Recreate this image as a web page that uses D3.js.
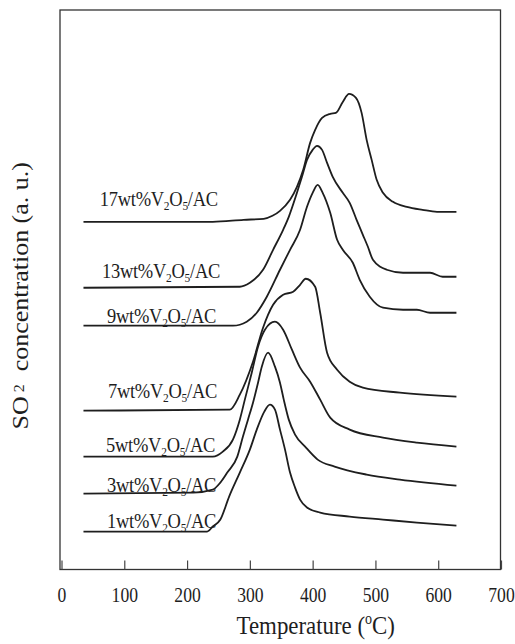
<!DOCTYPE html>
<html lang="en">
<head>
<meta charset="UTF-8">
<title>SO2 desorption profiles of V2O5/AC</title>
<script src="https://d3js.org/d3.v7.min.js"></script>
<style>
  body { margin: 0; background: #fff; }
  svg { display: block; }
  text { font-family: "Liberation Serif", "Times New Roman", serif; fill: #1e1e1e; }
</style>
</head>
<body>
<div id="chart"></div>
<script>
  // [temperature (°C), SO2 signal (a.u., already stacked with its offset)]
  const wt17 = [[35,34.8],[241,34.8],[290,35.0],[322,35.1],[336,35.4],[348,35.9],[364,37.0],[375,38.3],[385,40.0],[396,42.7],[404,44.0],[415,45.2],[428,45.6],[437,45.7],[448,46.8],[458,47.6],[469,47.2],[478,45.7],[486,43.0],[494,41.0],[502,39.0],[512,37.7],[528,36.8],[550,36.3],[575,36.0],[598,35.8],[629,35.8]];
  const wt13 = [[35,28.2],[284,28.3],[300,28.7],[321,30.0],[337,32.0],[353,34.0],[362,35.3],[375,37.7],[383,39.3],[391,41.0],[400,42.0],[407,42.4],[415,42.0],[423,40.7],[432,39.3],[448,37.7],[459,36.7],[470,35.0],[480,33.5],[488,32.3],[496,31.0],[518,30.0],[544,29.7],[587,29.7],[607,29.3],[629,29.3]];
  const wt9  = [[35,24.4],[273,24.4],[295,24.8],[311,25.7],[327,27.3],[348,30.0],[364,32.0],[380,34.0],[391,36.3],[400,37.7],[408,38.5],[416,37.7],[428,35.7],[439,33.0],[448,32.0],[464,30.7],[475,29.0],[491,27.3],[512,26.2],[544,26.0],[566,26.0],[587,25.7],[629,25.7]];
  const wt7  = [[35,15.9],[268,16.0],[284,17.5],[305,20.8],[321,24.2],[337,26.5],[353,27.5],[369,27.8],[380,28.5],[389,29.1],[404,28.3],[412,25.7],[423,21.7],[439,20.0],[459,18.8],[480,18.2],[539,17.7],[629,17.3]];
  const wt5  = [[35,11.3],[241,11.3],[257,11.8],[273,13.0],[284,15.0],[292,17.0],[303,19.7],[313,22.3],[324,24.0],[340,24.8],[353,24.0],[367,22.0],[380,20.2],[396,18.8],[412,17.0],[428,15.2],[459,14.0],[512,13.2],[566,12.7],[629,12.3]];
  const wt3  = [[35,7.6],[210,7.7],[241,8.0],[253,8.7],[264,9.7],[280,11.3],[289,13.3],[297,15.0],[305,16.7],[313,18.7],[319,20.3],[329,21.7],[340,20.3],[348,18.7],[354,17.0],[362,15.0],[372,13.5],[388,12.3],[408,11.0],[435,10.3],[486,9.5],[539,9.0],[629,8.4]];
  const wt1  = [[35,3.8],[232,3.8],[241,4.3],[253,5.0],[267,7.3],[284,9.7],[300,12.0],[311,14.0],[323,15.8],[332,16.5],[340,16.0],[348,14.0],[356,12.0],[364,9.7],[372,8.2],[380,7.0],[391,6.2],[412,5.7],[459,5.3],[512,5.0],[566,4.7],[629,4.4]];

  const loadings = ["17", "13", "9", "7", "5", "3", "1"];
  const curves = [wt17, wt13, wt9, wt7, wt5, wt3, wt1];
  // where each curve's name sits (temperature, signal)
  const labelT = [61, 64.5, 72.5, 74, 71, 72.5, 72.5];
  const labelV = [36.4, 29.2, 24.7, 17.2, 11.8, 7.8, 4.2];
  const xTicks = [0, 100, 200, 300, 400, 500, 600, 700];

  const width = 515, height = 644;
  const squeeze = 0.88; // the source figure is a little narrowed, text included

  const x = d3.scaleLinear().domain([0, 700]).range([61.5, 501]);
  const y = d3.scaleLinear().domain([0, 56]).range([569.5, 10]);

  const svg = d3.select("#chart")
    .append("svg")
    .attr("width", width)
    .attr("height", height);

  // frame
  svg.append("rect")
    .attr("x", x.range()[0] - 1.5)
    .attr("y", y.range()[1])
    .attr("width", x.range()[1] - x.range()[0] + 1)
    .attr("height", y.range()[0] - y.range()[1])
    .attr("fill", "none")
    .attr("stroke", "#333")
    .attr("stroke-width", 1.3);

  // x axis, ticks pointing inward
  svg.append("g")
    .attr("transform", `translate(0,${y.range()[0]})`)
    .call(d3.axisBottom(x).tickValues(xTicks).tickSizeInner(-9).tickSizeOuter(0).tickPadding(18))
    .call(g => g.select(".domain").remove())
    .call(g => g.selectAll(".tick line").attr("stroke", "#444").attr("stroke-width", 1.2))
    .call(g => g.selectAll(".tick text")
      .attr("font-size", 20)
      .attr("fill", "#1e1e1e")
      .attr("transform", `scale(${squeeze},1)`));

  const line = d3.line()
    .x(d => x(d[0]))
    .y(d => y(d[1]))
    .curve(d3.curveMonotoneX);

  svg.append("g")
    .selectAll("path")
    .data(curves)
    .join("path")
    .attr("d", line)
    .attr("fill", "none")
    .attr("stroke", "#1e1e1e")
    .attr("stroke-width", 1.8)
    .attr("stroke-linejoin", "round");

  // curve names, e.g. 17wt%V2O5/AC
  loadings.forEach((w, i) => {
    const t = svg.append("text")
      .attr("transform", `translate(${x(labelT[i])},${y(labelV[i])}) scale(${squeeze},1)`)
      .attr("font-size", 21)
      .attr("letter-spacing", -0.3);
    t.append("tspan").text(`${w}wt%V`);
    t.append("tspan").attr("font-size", 13).attr("dy", 4).text("2");
    t.append("tspan").attr("dy", -4).text("O");
    t.append("tspan").attr("font-size", 13).attr("dy", 4).text("5");
    t.append("tspan").attr("dy", -4).text("/AC");
  });

  // axis titles
  const xt = svg.append("text")
    .attr("transform", `translate(${x(405)},634) scale(${squeeze},1)`)
    .attr("text-anchor", "middle")
    .attr("font-size", 26);
  xt.append("tspan").text("Temperature (");
  xt.append("tspan").attr("font-size", 16).attr("dy", -10).text("o");
  xt.append("tspan").attr("dy", 10).text("C)");

  const yt = svg.append("text")
    .attr("transform", `translate(28,${(y.range()[0] + y.range()[1]) / 2 + 6}) scale(${squeeze},1) rotate(-90)`)
    .attr("text-anchor", "middle")
    .attr("font-size", 26)
    .style("white-space", "pre");
  yt.append("tspan").text("SO");
  yt.append("tspan").attr("font-size", 16).attr("dy", -4).text(" 2");
  yt.append("tspan").attr("dy", 4).text("  concentration (a. u.)");
</script>
</body>
</html>
